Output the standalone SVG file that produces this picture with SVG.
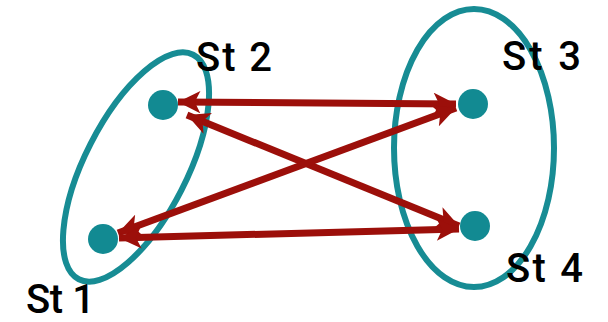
<svg xmlns="http://www.w3.org/2000/svg" width="608" height="322" viewBox="0 0 608 322">
  <style>
    .group { fill: none; stroke: #178c94; stroke-width: 6; }
    .node { fill: #128a92; }
    .link { stroke: #9c0f0a; stroke-width: 7; fill: none; marker-start: url(#head); marker-end: url(#head); }
    .label { font-family: Roboto, "Liberation Sans", sans-serif; font-size: 40px; font-weight: 500; fill: #000; }
  </style>
  <defs>
    <marker id="head" viewBox="0 0 10 10" refX="10" refY="5" markerWidth="3.5" markerHeight="3.2" orient="auto-start-reverse" markerUnits="strokeWidth">
      <path d="M0,0 L10,5 L0,10 L2.5,5 Z" fill="#9c0f0a"/>
    </marker>
  </defs>

  <!-- state groupings -->
  <ellipse class="group" cx="136" cy="167" rx="126" ry="51" transform="rotate(-63 136 167)"/>
  <ellipse class="group" cx="474" cy="148" rx="80" ry="139"/>

  <!-- transitions between states -->
  <g id="connectors">
    <line class="link" x1="178" y1="102" x2="456" y2="104"/>
    <line class="link" x1="187" y1="115" x2="459" y2="226"/>
    <line class="link" x1="118" y1="233" x2="456" y2="108"/>
    <line class="link" x1="119" y1="238" x2="459" y2="229"/>
  </g>

  <g id="st2">
    <circle class="node" cx="163" cy="105" r="15"/>
    <text class="label" x="196" y="71" textLength="76">St 2</text>
  </g>
  <g id="st1">
    <circle class="node" cx="103" cy="239" r="15"/>
    <text class="label" x="26" y="313" textLength="69">St 1</text>
  </g>
  <g id="st3">
    <circle class="node" cx="473" cy="104" r="15"/>
    <text class="label" x="502" y="70" textLength="79">St 3</text>
  </g>
  <g id="st4">
    <circle class="node" cx="475" cy="226" r="15"/>
    <text class="label" x="506" y="282" textLength="77">St 4</text>
  </g>
</svg>
